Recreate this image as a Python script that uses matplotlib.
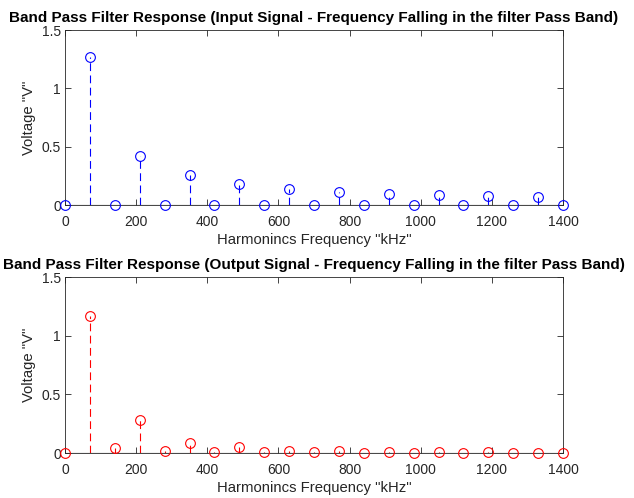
import matplotlib.pyplot as plt
import numpy as np

plt.rcParams['font.family'] = ['Liberation Sans', 'DejaVu Sans']

# ── Data ─────────────────────────────────────────────────────────────────────
freq_khz = [0, 70, 140, 210, 280, 350, 420, 490, 560, 630, 700,
            770, 840, 910, 980, 1050, 1120, 1190, 1260, 1330, 1400]
v_input = [0, 1.27, 0, 0.42, 0, 0.255, 0, 0.18, 0, 0.14, 0,
           0.115, 0, 0.095, 0, 0.085, 0, 0.075, 0, 0.067, 0]
v_output = [0, 1.17, 0.04, 0.28, 0.02, 0.085, 0.01, 0.055, 0.005, 0.02, 0.005,
            0.018, 0.003, 0.01, 0.002, 0.008, 0.002, 0.005, 0.001, 0.004, 0.001]

titles = ["Band Pass Filter Response (Input Signal - Frequency Falling in the filter Pass Band)",
          "Band Pass Filter Response (Output Signal - Frequency Falling in the filter Pass Band)"]
colors = ["#0000ff", "#ff0000"]
tick_col = "#262626"

fig = plt.figure(figsize=(6.34, 4.98), dpi=100)
ax1 = fig.add_axes([65 / 634, 1 - 205 / 498, (563 - 65) / 634, (205 - 30) / 498])
ax2 = fig.add_axes([65 / 634, 1 - 453 / 498, (563 - 65) / 634, (453 - 277) / 498])

for ax, vals, col, title in zip([ax1, ax2], [v_input, v_output], colors, titles):
    ml, sl, bl = ax.stem(freq_khz, vals, linefmt='--', markerfmt='o', basefmt='k-')
    sl.set_color(col)
    sl.set_linewidth(0.8)
    sl.set_linestyle((0, (7, 4)))
    plt.setp(ml, markerfacecolor='none', markeredgecolor=col, markersize=7,
             markeredgewidth=0.8, clip_on=False, zorder=4)
    plt.setp(bl, color='black', linewidth=0.8)
    ax.set_xlim(0, 1400)
    ax.set_ylim(0, 1.5)
    ax.set_xticks(np.arange(0, 1401, 200))
    ax.set_yticks([0, 0.5, 1, 1.5])
    ax.set_yticklabels(["0", "0.5", "1", "1.5"])
    ax.tick_params(direction='in', top=True, right=True, length=4, width=0.6,
                   labelsize=10, colors=tick_col, labelcolor=tick_col)
    ax.tick_params(axis='x', pad=7)
    ax.tick_params(axis='y', pad=3)
    for s in ax.spines.values():
        s.set_linewidth(0.6)
        s.set_color(tick_col)
    ax.set_xlabel('Harmonincs Frequency "kHz"', fontsize=10.7, color=tick_col, labelpad=3)
    ax.set_ylabel('Voltage "V"', fontsize=10.7, color=tick_col, labelpad=4)
    ax.set_title(title, fontsize=11, fontweight='bold', pad=6, color='black')

fig.savefig("out.png", dpi=100)
